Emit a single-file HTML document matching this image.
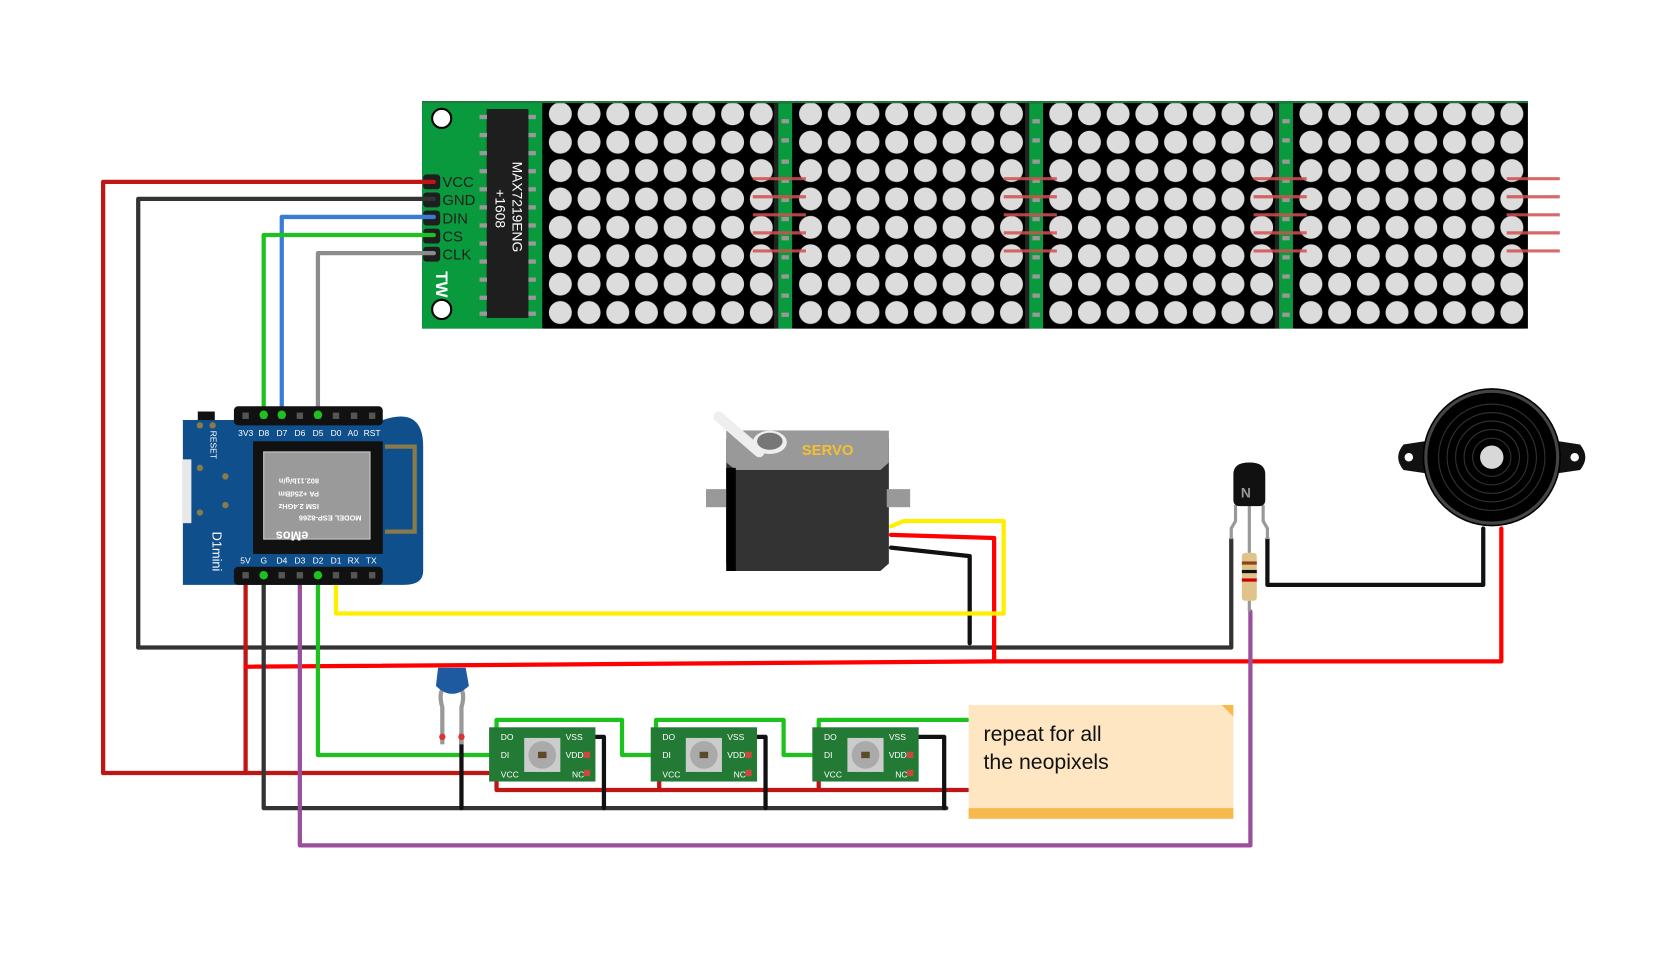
<!DOCTYPE html>
<html><head><meta charset="utf-8"><style>
html,body{margin:0;padding:0;background:#fff;}
svg{display:block;}
text{font-family:"Liberation Sans","DejaVu Sans",sans-serif;}
</style></head><body>
<svg width="1664" height="957" viewBox="0 0 1565 900" xmlns="http://www.w3.org/2000/svg">
<defs>
<pattern id="dots" patternUnits="userSpaceOnUse" x="513.5" y="93.65" width="27" height="26.7">
<rect width="27" height="26.7" fill="#000"/>
<circle cx="13.5" cy="13.35" r="10.8" fill="#dcdcdc"/>
</pattern>
</defs>
<rect width="1565" height="900" fill="#fff"/>

<!-- LED matrix -->
<rect x="397" y="95" width="1040" height="214" fill="#000"/>
<rect x="397" y="95" width="113" height="214" fill="#0a9a3e"/>
<rect x="397" y="95" width="1040" height="2" fill="#1f7a3a"/>
<g><rect x="512" y="97" width="216" height="212" fill="url(#dots)"/></g>
<g transform="translate(235.3,0)"><rect x="512" y="97" width="216" height="212" fill="url(#dots)"/></g>
<g transform="translate(470.6,0)"><rect x="512" y="97" width="216" height="212" fill="url(#dots)"/></g>
<g transform="translate(705.9,0)"><rect x="512" y="97" width="216" height="212" fill="url(#dots)"/></g>
<rect x="728" y="97" width="5" height="212" fill="#222"/><rect x="732" y="97" width="13" height="212" fill="#0a9a3e"/>
<rect x="964" y="97" width="5" height="212" fill="#222"/><rect x="968" y="97" width="13" height="212" fill="#0a9a3e"/>
<rect x="1199" y="97" width="5" height="212" fill="#222"/><rect x="1203" y="97" width="13" height="212" fill="#0a9a3e"/>
<g fill="#999">
<rect x="735" y="112" width="7" height="4"/><rect x="735" y="130" width="7" height="4"/><rect x="735" y="150" width="7" height="4"/><rect x="735" y="168" width="7" height="4"/><rect x="735" y="186" width="7" height="4"/><rect x="735" y="204" width="7" height="4"/><rect x="735" y="222" width="7" height="4"/><rect x="735" y="240" width="7" height="4"/><rect x="735" y="258" width="7" height="4"/><rect x="735" y="276" width="7" height="4"/><rect x="735" y="294" width="7" height="4"/>
<rect x="971" y="112" width="7" height="4"/><rect x="971" y="130" width="7" height="4"/><rect x="971" y="150" width="7" height="4"/><rect x="971" y="168" width="7" height="4"/><rect x="971" y="186" width="7" height="4"/><rect x="971" y="204" width="7" height="4"/><rect x="971" y="222" width="7" height="4"/><rect x="971" y="240" width="7" height="4"/><rect x="971" y="258" width="7" height="4"/><rect x="971" y="276" width="7" height="4"/><rect x="971" y="294" width="7" height="4"/>
<rect x="1206" y="112" width="7" height="4"/><rect x="1206" y="130" width="7" height="4"/><rect x="1206" y="150" width="7" height="4"/><rect x="1206" y="168" width="7" height="4"/><rect x="1206" y="186" width="7" height="4"/><rect x="1206" y="204" width="7" height="4"/><rect x="1206" y="222" width="7" height="4"/><rect x="1206" y="240" width="7" height="4"/><rect x="1206" y="258" width="7" height="4"/><rect x="1206" y="276" width="7" height="4"/><rect x="1206" y="294" width="7" height="4"/>
</g>
<!-- red pin stubs -->
<g stroke="#d25050" stroke-width="3" opacity="0.85">
<path d="M708 168H758M708 185H758M708 202H758M708 219H758M708 236H758"/>
<path d="M944 168H994M944 185H994M944 202H994M944 219H994M944 236H994"/>
<path d="M1179 168H1229M1179 185H1229M1179 202H1229M1179 219H1229M1179 236H1229"/>
<path d="M1417 168H1467M1417 185H1467M1417 202H1467M1417 219H1467M1417 236H1467"/>
</g>
<!-- chip -->
<rect x="457.7" y="102.5" width="39.3" height="196.5" fill="#1e1e1e"/>
<g fill="#999">
<rect x="451" y="108" width="7" height="4"/><rect x="451" y="125" width="7" height="4"/><rect x="451" y="142" width="7" height="4"/><rect x="451" y="159" width="7" height="4"/><rect x="451" y="176" width="7" height="4"/><rect x="451" y="193" width="7" height="4"/><rect x="451" y="210" width="7" height="4"/><rect x="451" y="227" width="7" height="4"/><rect x="451" y="244" width="7" height="4"/><rect x="451" y="261" width="7" height="4"/><rect x="451" y="278" width="7" height="4"/><rect x="451" y="293" width="7" height="4"/>
<rect x="497" y="108" width="7" height="4"/><rect x="497" y="125" width="7" height="4"/><rect x="497" y="142" width="7" height="4"/><rect x="497" y="159" width="7" height="4"/><rect x="497" y="176" width="7" height="4"/><rect x="497" y="193" width="7" height="4"/><rect x="497" y="210" width="7" height="4"/><rect x="497" y="227" width="7" height="4"/><rect x="497" y="244" width="7" height="4"/><rect x="497" y="261" width="7" height="4"/><rect x="497" y="278" width="7" height="4"/><rect x="497" y="293" width="7" height="4"/>
</g>
<text transform="translate(482,152) rotate(90)" font-size="13" fill="#fff">MAX7219ENG</text>
<text transform="translate(466,178) rotate(90)" font-size="13" fill="#fff">+1608</text>
<circle cx="415.4" cy="111.3" r="9" fill="#fff" stroke="#000" stroke-width="2"/>
<circle cx="415.4" cy="291" r="9" fill="#fff" stroke="#000" stroke-width="2"/>
<text transform="translate(410,255) rotate(90)" font-size="16" fill="#fff" font-weight="bold">TW</text>
<g fill="#1e1e1e">
<rect x="398" y="164" width="16" height="14" rx="3"/><rect x="398" y="181" width="16" height="14" rx="3"/><rect x="398" y="198" width="16" height="14" rx="3"/><rect x="398" y="215" width="16" height="14" rx="3"/><rect x="398" y="232" width="16" height="14" rx="3"/>
</g>
<g font-size="14" fill="#1e1e1e">
<text x="416" y="176">VCC</text><text x="416" y="193">GND</text><text x="416" y="210">DIN</text><text x="416" y="227">CS</text><text x="416" y="244">CLK</text>
</g>

<!-- Wires -->
<g fill="none" stroke-linejoin="round" stroke-linecap="round" stroke-width="4">
<path d="M97 727V171H408" stroke="#c01515"/>
<path d="M130 609V187H408" stroke="#333"/>
<path d="M265 390V204H408" stroke="#3a7bd5"/>
<path d="M248 390V221H408" stroke="#1ec21e"/>
<path d="M299 390V238H408" stroke="#8c8c8c"/>
<path d="M130 609H1158V507" stroke="#333"/>
<path d="M231 541V727" stroke="#c01515"/>
<path d="M97 727H462" stroke="#c01515"/>
<path d="M231 627L935 622H1412V497" stroke="#ff0000"/>
<path d="M838 503L935 506V622" stroke="#ff0000"/>
<path d="M838 515L912 523V605" stroke="#111"/>
<path d="M316 541V577H944V490H850L838 495" stroke="#ffee00"/>
<path d="M248 541V760H890" stroke="#333"/>
<path d="M282 541V795H1176V575" stroke="#9b4f9b"/>
<path d="M299 541V710H462" stroke="#1ec21e"/>
<path d="M1192 507V550H1395V497" stroke="#111"/>
<path d="M467 727V743H910" stroke="#c01515"/>
<path d="M620 727V743M770 727V743" stroke="#c01515"/>
<path d="M434 690V760" stroke="#111"/>
<path d="M555 693H568V760M706 693H720V760M858 693H888V760" stroke="#111"/>
<path d="M467 693V677H585V710H617M617 693V677H737V710H770M770 693V677H910" stroke="#1ec21e"/>
</g>

<!-- Wemos D1 mini -->
<path d="M172 395H360Q398 382 398 420V537Q398 550 380 550H172Z" fill="#0e4f8c"/>
<rect x="186" y="387" width="16" height="8" fill="#111"/>
<rect x="172" y="432" width="8" height="60" fill="#e8e8e8"/>
<rect x="220" y="382" width="140" height="18" fill="#111" rx="4"/>
<rect x="220" y="533" width="140" height="17" fill="#111" rx="4"/>
<g fill="#555">
<rect x="228" y="388" width="6" height="6"/><rect x="245" y="388" width="6" height="6"/><rect x="262" y="388" width="6" height="6"/><rect x="279" y="388" width="6" height="6"/><rect x="296" y="388" width="6" height="6"/><rect x="313" y="388" width="6" height="6"/><rect x="330" y="388" width="6" height="6"/><rect x="347" y="388" width="6" height="6"/>
<rect x="228" y="538" width="6" height="6"/><rect x="245" y="538" width="6" height="6"/><rect x="262" y="538" width="6" height="6"/><rect x="279" y="538" width="6" height="6"/><rect x="296" y="538" width="6" height="6"/><rect x="313" y="538" width="6" height="6"/><rect x="330" y="538" width="6" height="6"/><rect x="347" y="538" width="6" height="6"/>
</g>
<g font-size="8" fill="#fff">
<text x="224" y="410">3V3</text><text x="243" y="410">D8</text><text x="260" y="410">D7</text><text x="277" y="410">D6</text><text x="294" y="410">D5</text><text x="311" y="410">D0</text><text x="327" y="410">A0</text><text x="342" y="410">RST</text>
<text x="226" y="530">5V</text><text x="245" y="530">G</text><text x="260" y="530">D4</text><text x="277" y="530">D3</text><text x="294" y="530">D2</text><text x="311" y="530">D1</text><text x="327" y="530">RX</text><text x="344" y="530">TX</text>
</g>
<text transform="translate(198,405) rotate(90)" font-size="8" fill="#fff">RESET</text>
<text transform="translate(200,500) rotate(90)" font-size="12" fill="#fff">D1mini</text>
<rect x="238" y="415" width="122" height="106" fill="#111"/>
<rect x="248" y="425" width="100" height="82" fill="#9a9a9a" stroke="#ccc"/>
<g font-size="7" fill="#fff" font-weight="bold"><text transform="translate(300,450) rotate(180)">802.11b/g/n</text><text transform="translate(300,462) rotate(180)">PA +25dBm</text><text transform="translate(300,474) rotate(180)">ISM 2.4GHz</text><text transform="translate(340,485) rotate(180)">MODEL ESP-8266</text><text transform="translate(290,500) rotate(180)" font-size="12">eMos</text></g>
<path d="M362 420H390V500H362" fill="none" stroke="#8a7a4a" stroke-width="4"/>
<g fill="#8a7a4a"><circle cx="188" cy="400" r="3"/><circle cx="200" cy="400" r="3"/><circle cx="188" cy="440" r="3"/><circle cx="212" cy="448" r="3"/><circle cx="188" cy="482" r="3"/><circle cx="212" cy="475" r="3"/></g>
<g fill="#1ec21e"><circle cx="248" cy="390" r="4"/><circle cx="265" cy="390" r="4"/><circle cx="299" cy="390" r="4"/><circle cx="248" cy="541" r="4"/><circle cx="299" cy="541" r="4"/></g>

<!-- Servo -->
<polygon points="683,413 692,405 828,405 836,413 836,530 828,537 690,537 683,530" fill="#333"/>
<polygon points="683,405 836,405 836,435 828,442 692,442 683,435" fill="#999"/>
<rect x="664" y="460" width="22" height="17" fill="#999"/>
<rect x="834" y="460" width="22" height="17" fill="#999"/>
<rect x="683" y="440" width="9" height="97" fill="#000"/>
<path d="M676 392L714 425" stroke="#eee" stroke-width="10" stroke-linecap="round"/>
<ellipse cx="724" cy="416" rx="16" ry="11" fill="#eee"/>
<ellipse cx="724" cy="415" rx="12" ry="8" fill="#777"/>
<text x="754" y="428" font-size="14" font-weight="bold" fill="#f5c030" font-family="Liberation Mono,monospace">SERVO</text>

<!-- Capacitor -->
<path d="M416 700V665Q412 652 418 645M434 700V665Q438 652 432 645" fill="none" stroke="#999" stroke-width="4"/>
<path d="M412 628H438L441 645Q425 660 410 645Z" fill="#1d5aa0"/>
<circle cx="416" cy="693" r="3" fill="#d33"/><circle cx="434" cy="693" r="3" fill="#d33"/>

<!-- Neopixels -->
<g>
<rect x="460" y="684" width="100" height="51" fill="#237a35"/>
<rect x="612" y="684" width="100" height="51" fill="#237a35"/>
<rect x="764" y="684" width="100" height="51" fill="#237a35"/>
<g fill="#ccc">
<rect x="493" y="694" width="34" height="32"/><rect x="645" y="694" width="34" height="32"/><rect x="797" y="694" width="34" height="32"/>
</g>
<g fill="#aaa"><circle cx="510" cy="710" r="13"/><circle cx="662" cy="710" r="13"/><circle cx="814" cy="710" r="13"/></g>
<g fill="#5a4a2a"><rect x="506" y="707" width="8" height="6"/><rect x="658" y="707" width="8" height="6"/><rect x="810" y="707" width="8" height="6"/></g>
<g font-size="8" fill="#fff" font-family="Liberation Mono,monospace">
<text x="471" y="696">DO</text><text x="471" y="713">DI</text><text x="471" y="731">VCC</text><text x="532" y="696">VSS</text><text x="532" y="713">VDD</text><text x="538" y="731">NC</text>
<text x="623" y="696">DO</text><text x="623" y="713">DI</text><text x="623" y="731">VCC</text><text x="684" y="696">VSS</text><text x="684" y="713">VDD</text><text x="690" y="731">NC</text>
<text x="775" y="696">DO</text><text x="775" y="713">DI</text><text x="775" y="731">VCC</text><text x="836" y="696">VSS</text><text x="836" y="713">VDD</text><text x="842" y="731">NC</text>
</g>
<g fill="#c84a3a"><rect x="549" y="707" width="6" height="6"/><rect x="549" y="724" width="6" height="6"/><rect x="701" y="707" width="6" height="6"/><rect x="701" y="724" width="6" height="6"/><rect x="853" y="707" width="6" height="6"/><rect x="853" y="724" width="6" height="6"/></g>
</g>

<!-- Note -->
<rect x="911" y="663" width="249" height="107" fill="#fee6c3"/>
<rect x="911" y="760" width="249" height="10" fill="#f8b94c"/>
<polygon points="1149,663 1160,663 1160,674" fill="#f8b94c"/>
<text x="925" y="697" font-size="20" fill="#111" font-family="DejaVu Sans,sans-serif">repeat for all</text>
<text x="925" y="723" font-size="20" fill="#111" font-family="DejaVu Sans,sans-serif">the neopixels</text>

<!-- Transistor & resistor -->
<path d="M1162 475V490L1158 497V507M1175 475V520M1188 475V490L1192 497V507" fill="none" stroke="#999" stroke-width="3"/>
<path d="M1160 446Q1160 435 1175 435Q1190 435 1190 446V470Q1190 476 1184 476H1166Q1160 476 1160 470Z" fill="#111"/>
<text x="1167" y="468" font-size="13" font-weight="bold" fill="#999">N</text>
<rect x="1168" y="520" width="14" height="45" rx="3" fill="#e0c38a"/>
<rect x="1168" y="528" width="14" height="3" fill="#8b4513"/><rect x="1168" y="536" width="14" height="3" fill="#111"/><rect x="1168" y="544" width="14" height="3" fill="#c00"/>
<path d="M1175 565V575" stroke="#999" stroke-width="3"/>

<!-- Buzzer -->
<path d="M1340 415L1320 418Q1310 430 1320 442L1340 445Z" fill="#111"/>
<path d="M1466 415L1486 418Q1496 430 1486 442L1466 445Z" fill="#111"/>
<circle cx="1325" cy="430" r="4" fill="#fff"/><circle cx="1481" cy="430" r="4" fill="#fff"/>
<circle cx="1403" cy="430" r="65" fill="#000"/>
<circle cx="1403" cy="430" r="62" fill="none" stroke="#444" stroke-width="3"/>
<g fill="none" stroke="#333" stroke-width="1"><circle cx="1403" cy="430" r="50"/><circle cx="1403" cy="430" r="42"/><circle cx="1403" cy="430" r="34"/><circle cx="1403" cy="430" r="26"/><circle cx="1403" cy="430" r="18"/></g>
<circle cx="1403" cy="430" r="11" fill="#d8d8d8"/>
</svg>
</body></html>
